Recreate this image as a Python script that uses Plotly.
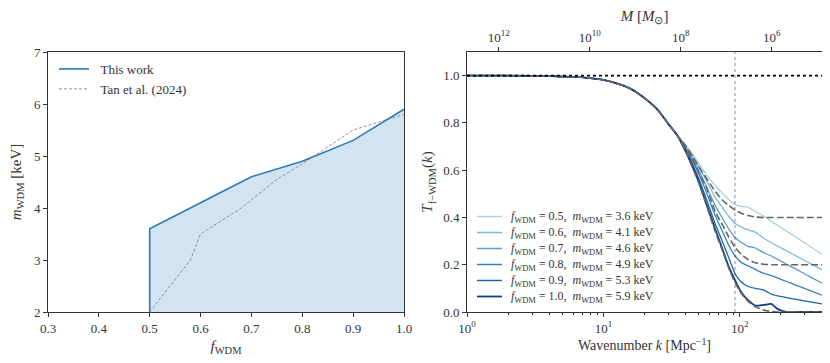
import plotly.graph_objects as go

# ---------------- Left panel data ----------------
f_this = [0.5, 0.5, 0.6, 0.7, 0.8, 0.9, 1.0]
m_this = [2.0, 3.6, 4.1, 4.6, 4.9, 5.3, 5.9]
f_tan = [0.5, 0.58, 0.6, 0.68, 0.75, 0.8, 0.9, 0.95, 1.0]
m_tan = [2.0, 3.0, 3.5, 4.0, 4.55, 4.85, 5.5, 5.65, 5.8]

# ---------------- Right panel data ----------------
k_vals = [1, 2, 3, 4, 5, 7, 10, 13, 16, 20, 25, 30, 35,
          40, 45, 50, 57, 66, 75, 83, 92, 102, 115, 130, 150, 170, 190, 220, 260, 320, 400]
common = [1.0, 1.0, 0.999, 0.998, 0.996, 0.993, 0.982, 0.964, 0.943, 0.905, 0.855, 0.795, 0.745]
T_05 = common + [0.705, 0.668, 0.63, 0.58, 0.535, 0.50, 0.475, 0.455, 0.447, 0.443, 0.425, 0.405, 0.384, 0.366, 0.342, 0.315, 0.281, 0.243]
T_06 = common + [0.70, 0.658, 0.615, 0.555, 0.485, 0.44, 0.404, 0.375, 0.36, 0.347, 0.338, 0.312, 0.293, 0.278, 0.259, 0.236, 0.209, 0.178]
T_07 = common + [0.695, 0.648, 0.60, 0.53, 0.45, 0.394, 0.351, 0.316, 0.295, 0.278, 0.27, 0.25, 0.237, 0.222, 0.202, 0.18, 0.152, 0.122]
T_08 = common + [0.69, 0.638, 0.585, 0.505, 0.408, 0.337, 0.282, 0.238, 0.21, 0.195, 0.18, 0.163, 0.154, 0.143, 0.129, 0.113, 0.093, 0.071]
T_09 = common + [0.685, 0.625, 0.565, 0.475, 0.372, 0.293, 0.229, 0.163, 0.128, 0.108, 0.10, 0.093, 0.075, 0.068, 0.061, 0.053, 0.044, 0.034]
T_10 = common + [0.68, 0.615, 0.55, 0.455, 0.35, 0.262, 0.191, 0.135, 0.085, 0.05, 0.027, 0.03, 0.034, 0.012, 0.0, 0.0, 0.0, 0.0]
D_04 = common + [0.705, 0.66, 0.615, 0.565, 0.51, 0.472, 0.45, 0.432, 0.418, 0.408, 0.402, 0.4, 0.4, 0.4, 0.4, 0.4, 0.4, 0.4]
D_02 = common + [0.695, 0.645, 0.59, 0.525, 0.425, 0.366, 0.317, 0.275, 0.245, 0.222, 0.208, 0.202, 0.2, 0.2, 0.2, 0.2, 0.2, 0.2]
D_00 = common + [0.68, 0.61, 0.545, 0.45, 0.34, 0.255, 0.185, 0.125, 0.08, 0.045, 0.022, 0.008, 0.002, 0.0, 0.0, 0.0, 0.0, 0.0]

f_labels = ["0.5", "0.6", "0.7", "0.8", "0.9", "1.0"]
m_labels = ["3.6", "4.1", "4.6", "4.9", "5.3", "5.9"]
solid_series = [T_05, T_06, T_07, T_08, T_09, T_10]
dashed_series = [D_04, D_02, D_00]
colors = ['#a9d0e6', '#7fb9db', '#569fcf', '#3383be', '#1764ab', '#0b3f80']

K_LIMIT = 92.0
T_REF = 1.0
M_LOG_AT_K1 = 12.7  # log10 M at k = 1 (M ~ k^-3)
K_MAX_LOG = 2.602

left_xticks = [0.3, 0.4, 0.5, 0.6, 0.7, 0.8, 0.9, 1.0]
left_yticks = [2, 3, 4, 5, 6, 7]
right_yticks = [0.0, 0.2, 0.4, 0.6, 0.8, 1.0]
bottom_ticks = [1, 10, 100]
bottom_text = ["10<sup>0</sup>", "10<sup>1</sup>", "10<sup>2</sup>"]
top_ticks = [1e12, 1e10, 1e8, 1e6]
top_text = ["10<sup>12</sup>", "10<sup>10</sup>", "10<sup>8</sup>", "10<sup>6</sup>"]

FONT = "Liberation Serif"
AX = '#333333'
NB = "\u00a0"

# page body has an 8px margin: work in page pixels and subtract it
OFF = 8
W, H = 830 - OFF, 363 - OFF


def px_x(p):
    return (p - OFF) / W


def px_y(p):
    return 1 - (p - OFF) / H


fig = go.Figure()

# Left panel
fig.add_trace(go.Scatter(x=f_this, y=m_this, mode='lines', showlegend=False,
                         line=dict(width=0), fill='tozeroy', fillcolor='rgba(31,119,180,0.2)',
                         xaxis='x', yaxis='y', hoverinfo='skip'))
fig.add_trace(go.Scatter(x=f_this, y=m_this, mode='lines', name=f'{NB}{NB}This work',
                         line=dict(color='#2a7ab9', width=1.6),
                         xaxis='x', yaxis='y', legend='legend'))
fig.add_trace(go.Scatter(x=f_tan, y=m_tan, mode='lines', name=f'{NB}{NB}Tan et al. (2024)',
                         line=dict(color='#777777', width=0.8, dash='3px,2px'),
                         xaxis='x', yaxis='y', legend='legend'))

# Right panel curves
for s, c in zip(solid_series, colors):
    fig.add_trace(go.Scatter(
        x=k_vals, y=s, mode='lines', showlegend=False,
        line=dict(color=c, width=1.8 if c == colors[-1] else 1.3, shape='spline', smoothing=0.6),
        xaxis='x2', yaxis='y2'))
for d in dashed_series:
    fig.add_trace(go.Scatter(
        x=k_vals, y=d, mode='lines', showlegend=False,
        line=dict(color='#666666', width=1.6, dash='7px,3px', shape='spline', smoothing=0.6),
        xaxis='x2', yaxis='y2'))
fig.add_trace(go.Scatter(x=[], y=[], xaxis='x3', yaxis='y2', showlegend=False))

fig.add_shape(type='line', xref='x2', yref='y2 domain', x0=K_LIMIT, x1=K_LIMIT,
              y0=0, y1=1, line=dict(color='#333333', width=0.6, dash='dot'))
fig.add_shape(type='line', xref='x2 domain', yref='y2', x0=0, x1=1, y0=T_REF, y1=T_REF,
              line=dict(color='black', width=1.6, dash='dot'))

# Right-panel legend (compact rows, like the reference)
ROW0, ROW_STEP = 216.5, 16
for i, (c, f, m) in enumerate(zip(colors, f_labels, m_labels)):
    yy = px_y(ROW0 + i * ROW_STEP)
    fig.add_shape(type='line', xref='paper', yref='paper', x0=px_x(477), x1=px_x(502),
                  y0=yy, y1=yy, line=dict(color=c, width=1.8 if i == 5 else 1.5))
    fig.add_annotation(xref='paper', yref='paper', x=px_x(509), y=yy, xanchor='left', yanchor='middle',
                       showarrow=False,
                       text=f"<i>f</i><sub>WDM</sub> = {f},  <i>m</i><sub>WDM</sub> = {m} keV",
                       font=dict(family=FONT, size=12, color='#333'))

axis_common = dict(showline=True, linecolor=AX, linewidth=1, mirror=True, ticks='outside',
                   ticklen=4, tickcolor=AX, showgrid=False, zeroline=False,
                   tickfont=dict(family=FONT, size=13, color='#333'), automargin=False)

fig.update_layout(
    width=W, height=H, template='none',
    paper_bgcolor='white', plot_bgcolor='white',
    margin=dict(l=0, r=0, t=0, b=0),
    font=dict(family=FONT, size=13, color='#333'),
    xaxis=dict(domain=[px_x(48), px_x(404)], range=[0.3, 1.0], tickvals=left_xticks,
               ticktext=[f"{v:.1f}" for v in left_xticks], anchor='y',
               title=dict(text="<i>f</i><sub>WDM</sub>", font=dict(family=FONT, size=15), standoff=5),
               **axis_common),
    yaxis=dict(domain=[px_y(312), px_y(52)], range=[2, 7], tickvals=left_yticks, anchor='x',
               title=dict(text="<i>m</i><sub>WDM</sub> [keV]", font=dict(family=FONT, size=15), standoff=10),
               **axis_common),
    xaxis2=dict(domain=[px_x(467), px_x(822)], type='log', range=[0, K_MAX_LOG], anchor='y2',
                tickvals=bottom_ticks, ticktext=bottom_text,
                minor=dict(ticks='outside', ticklen=2, tickcolor=AX,
                           tickvals=[2, 3, 4, 5, 6, 7, 8, 9, 20, 30, 40, 50, 60, 70, 80, 90, 200, 300, 400]),
                title=dict(text="Wavenumber <i>k</i> [Mpc<sup>−1</sup>]", font=dict(family=FONT, size=14), standoff=4),
                **axis_common),
    yaxis2=dict(domain=[px_y(312), px_y(52)], range=[0, 1.1], anchor='x2',
                tickvals=right_yticks, ticktext=[f"{v:.1f}" for v in right_yticks],
                title=dict(text="<i>T</i><sub>f−WDM</sub>(<i>k</i>)", font=dict(family=FONT, size=15), standoff=6),
                **axis_common),
    xaxis3=dict(overlaying='x2', side='top', anchor='y2', type='log',
                range=[M_LOG_AT_K1, M_LOG_AT_K1 - 3 * K_MAX_LOG],
                tickvals=top_ticks, ticktext=top_text, showline=False, ticks='outside', ticklen=4,
                tickcolor=AX, showgrid=False, zeroline=False, automargin=False,
                tickfont=dict(family=FONT, size=13, color='#333'),
                title=dict(text="<i>M</i> [<i>M</i><sub>⊙</sub>]", font=dict(family=FONT, size=15), standoff=6)),
    legend=dict(x=px_x(54), y=px_y(54), xanchor='left', yanchor='top', bgcolor='rgba(0,0,0,0)',
                font=dict(family=FONT, size=13, color='#333')),
)

fig.write_html("out.html")
